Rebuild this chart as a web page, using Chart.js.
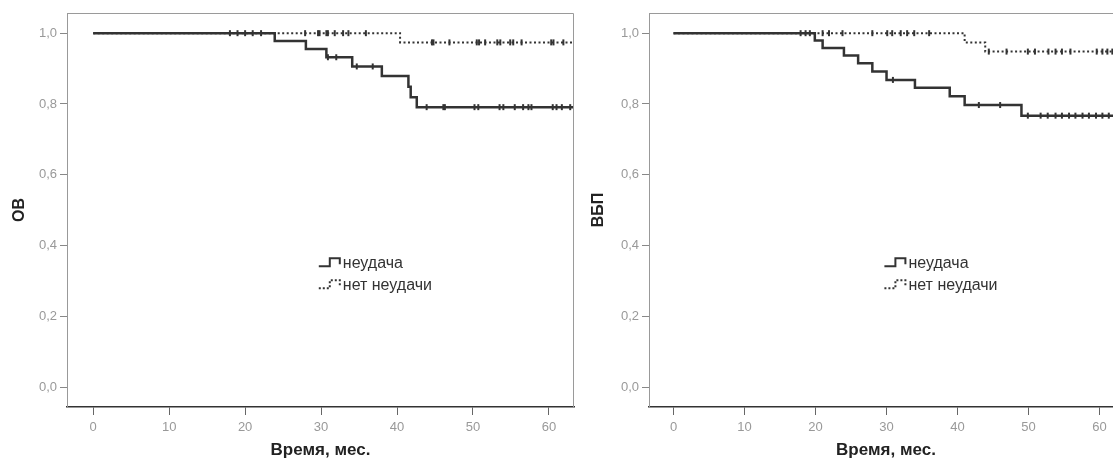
<!DOCTYPE html>
<html>
<head>
<meta charset="utf-8">
<script src="https://cdn.jsdelivr.net/npm/chart.js@4.4.1/dist/chart.umd.min.js"></script>
<style>
html, body { margin: 0; padding: 0; background: #fff; overflow: hidden; width: 1113px; height: 463px; }
canvas { position: absolute; top: 0; }
#os { left: 0; }
#pfs { left: 560px; }
</style>
</head>
<body>
<canvas id="os" width="600" height="463"></canvas>
<canvas id="pfs" width="580" height="463"></canvas>
<script>
// --- DATA ---
const seriesNames = ['неудача', 'нет неудачи'];
const xTitle = 'Время, мес.';
const xTicks = [0, 10, 20, 30, 40, 50, 60];
const yTicks = [0, 0.2, 0.4, 0.6, 0.8, 1.0];
const lastTime = 63.3;

// ОВ (left)
const osFailTimes = [23.9, 28.0, 30.7, 34.1, 38.0, 41.5, 41.8, 42.6];
const osFailSurv  = [0.978, 0.955, 0.932, 0.906, 0.879, 0.849, 0.819, 0.791];
const osFailCens  = [30.9, 32.0, 34.7, 36.8, 43.9, 46.1, 46.3, 50.2, 50.7, 53.5, 54.0, 55.5, 56.6, 57.3, 57.7, 60.5, 61.0, 61.7, 62.8];
const osOkTimes = [40.4];
const osOkSurv  = [0.974];
const osOkCens  = [18.0, 19.0, 20.0, 21.0, 22.1, 27.9, 29.6, 29.8, 30.7, 30.9, 31.8, 32.9, 33.6, 35.9, 44.6, 44.8, 46.9, 50.5, 50.8, 51.6, 53.2, 53.6, 54.9, 55.3, 56.4, 60.3, 60.6, 61.9];

// ВБП (right)
const pfsFailTimes = [19.9, 21.0, 24.0, 26.0, 28.0, 30.0, 34.0, 38.9, 41.0, 49.0];
const pfsFailSurv  = [0.979, 0.958, 0.937, 0.915, 0.892, 0.868, 0.846, 0.822, 0.797, 0.767];
const pfsFailCens  = [30.9, 43.0, 46.0, 49.9, 51.7, 52.7, 53.8, 54.7, 55.7, 56.6, 57.6, 58.5, 59.5, 60.4, 61.3];
const pfsOkTimes = [41.0, 43.9];
const pfsOkSurv  = [0.974, 0.948];
const pfsOkCens  = [17.9, 18.6, 19.2, 21.0, 21.9, 23.8, 28.0, 30.1, 30.8, 32.0, 32.9, 33.9, 36.0, 44.4, 46.9, 49.9, 50.9, 52.8, 53.8, 54.7, 55.9, 59.6, 60.4, 61.1, 61.8];

// --- HELPERS ---
const FONT = '"Liberation Sans", Arial, sans-serif';
const TICK_FONT = '"Liberation Sans Narrow", "Liberation Sans", Arial, sans-serif';

function stepPoints(times, surv) {
    const pts = [{x: 0, y: 1}];
    times.forEach((t, i) => pts.push({x: t, y: surv[i]}));
    pts.push({x: lastTime, y: surv[surv.length - 1]});
    return pts;
}

function survAt(times, surv, t) {
    let s = 1;
    times.forEach((tt, i) => { if (tt <= t) s = surv[i]; });
    return s;
}

function censPoints(cens, times, surv) {
    return cens.map(t => ({x: t, y: survAt(times, surv, t)}));
}

// frame on top/right of plot area
const framePlugin = {
    id: 'frame',
    afterDraw(chart) {
        const {ctx, chartArea: a} = chart;
        ctx.save();
        ctx.strokeStyle = '#9a9a9a';
        ctx.lineWidth = 1;
        ctx.beginPath();
        ctx.moveTo(a.left, a.top + 0.5);
        ctx.lineTo(a.right - 0.5, a.top + 0.5);
        ctx.lineTo(a.right - 0.5, a.bottom);
        ctx.stroke();
        ctx.restore();
    }
};

// SPSS-like legend inside the plot
const kmLegend = {
    id: 'kmLegend',
    afterDraw(chart, args, opts) {
        const {ctx, scales} = chart;
        const x0 = scales.x.getPixelForValue(opts.x);
        const y0 = scales.y.getPixelForValue(opts.y);
        ctx.save();
        seriesNames.forEach((name, i) => {
            const y = y0 + i * 22;
            ctx.strokeStyle = '#333';
            ctx.lineWidth = 2;
            ctx.setLineDash(i === 0 ? [] : [2, 2]);
            ctx.beginPath();
            ctx.moveTo(x0, y + 3);
            ctx.lineTo(x0 + 11, y + 3);
            ctx.lineTo(x0 + 11, y - 5);
            ctx.lineTo(x0 + 21, y - 5);
            ctx.lineTo(x0 + 21, y + 1);
            ctx.stroke();
            ctx.setLineDash([]);
            ctx.fillStyle = '#333';
            ctx.font = '16px ' + FONT;
            ctx.textBaseline = 'middle';
            ctx.fillText(name, x0 + 24, y);
        });
        ctx.restore();
    }
};

function makeChart(id, yTitle, fail, ok, box) {
    const line = (pts, dash, w) => ({
        data: pts, showLine: true, stepped: 'before',
        borderColor: '#333', borderWidth: w, borderDash: dash,
        pointRadius: 0, fill: false
    });
    const marks = pts => ({
        data: pts, showLine: false, pointStyle: 'line', rotation: 90,
        pointRadius: 3, borderColor: '#333', pointBorderWidth: 2, backgroundColor: '#333'
    });
    return new Chart(document.getElementById(id), {
        type: 'scatter',
        data: {
            datasets: [
                line(stepPoints(fail[0], fail[1]), [], 2.5),
                line(stepPoints(ok[0], ok[1]), [2, 2.5], 2),
                marks(censPoints(fail[2], fail[0], fail[1])),
                marks(censPoints(ok[2], ok[0], ok[1]))
            ]
        },
        options: {
            responsive: false,
            animation: false,
            devicePixelRatio: 1,
            layout: { padding: { top: 13, right: box.right, left: 0, bottom: 0 } },
            plugins: {
                legend: { display: false },
                tooltip: { enabled: false },
                kmLegend: { x: 29.7, y: 0.35 }
            },
            scales: {
                x: {
                    type: 'linear', min: -3.45, max: lastTime,
                    afterBuildTicks: s => { s.ticks = xTicks.map(v => ({value: v})); },
                    afterFit: s => { s.height = 56; },
                    grid: { drawOnChartArea: false, drawTicks: true, tickLength: 8, color: '#666' },
                    border: { display: true, color: '#333', width: 1.5 },
                    ticks: { color: '#999', padding: 5, maxRotation: 0, font: { family: TICK_FONT, size: 13 } },
                    title: { display: true, text: xTitle, color: '#222',
                             font: { family: FONT, size: 17, weight: 'bold' }, padding: { top: 0, bottom: 2 } }
                },
                y: {
                    min: -0.056, max: 1.057,
                    afterBuildTicks: s => { s.ticks = yTicks.map(v => ({value: v})); },
                    afterFit: s => { s.width = box.left; },
                    grid: { drawOnChartArea: false, drawTicks: true, tickLength: 7, color: '#888' },
                    border: { display: true, color: '#999', width: 1 },
                    ticks: { color: '#999', padding: 3, font: { family: TICK_FONT, size: 13 },
                             callback: v => v.toFixed(1).replace('.', ',') },
                    title: { display: true, text: yTitle, color: '#222',
                             font: { family: FONT, size: 16, weight: 'bold' }, padding: { top: box.title, bottom: 0 } }
                }
            }
        },
        plugins: [framePlugin, kmLegend]
    });
}

makeChart('os', 'ОВ',
    [osFailTimes, osFailSurv, osFailCens],
    [osOkTimes, osOkSurv, osOkCens],
    { left: 67, right: 26, title: 10 });

makeChart('pfs', 'ВБП',
    [pfsFailTimes, pfsFailSurv, pfsFailCens],
    [pfsOkTimes, pfsOkSurv, pfsOkCens],
    { left: 89, right: 17, title: 29 });
</script>
</body>
</html>
